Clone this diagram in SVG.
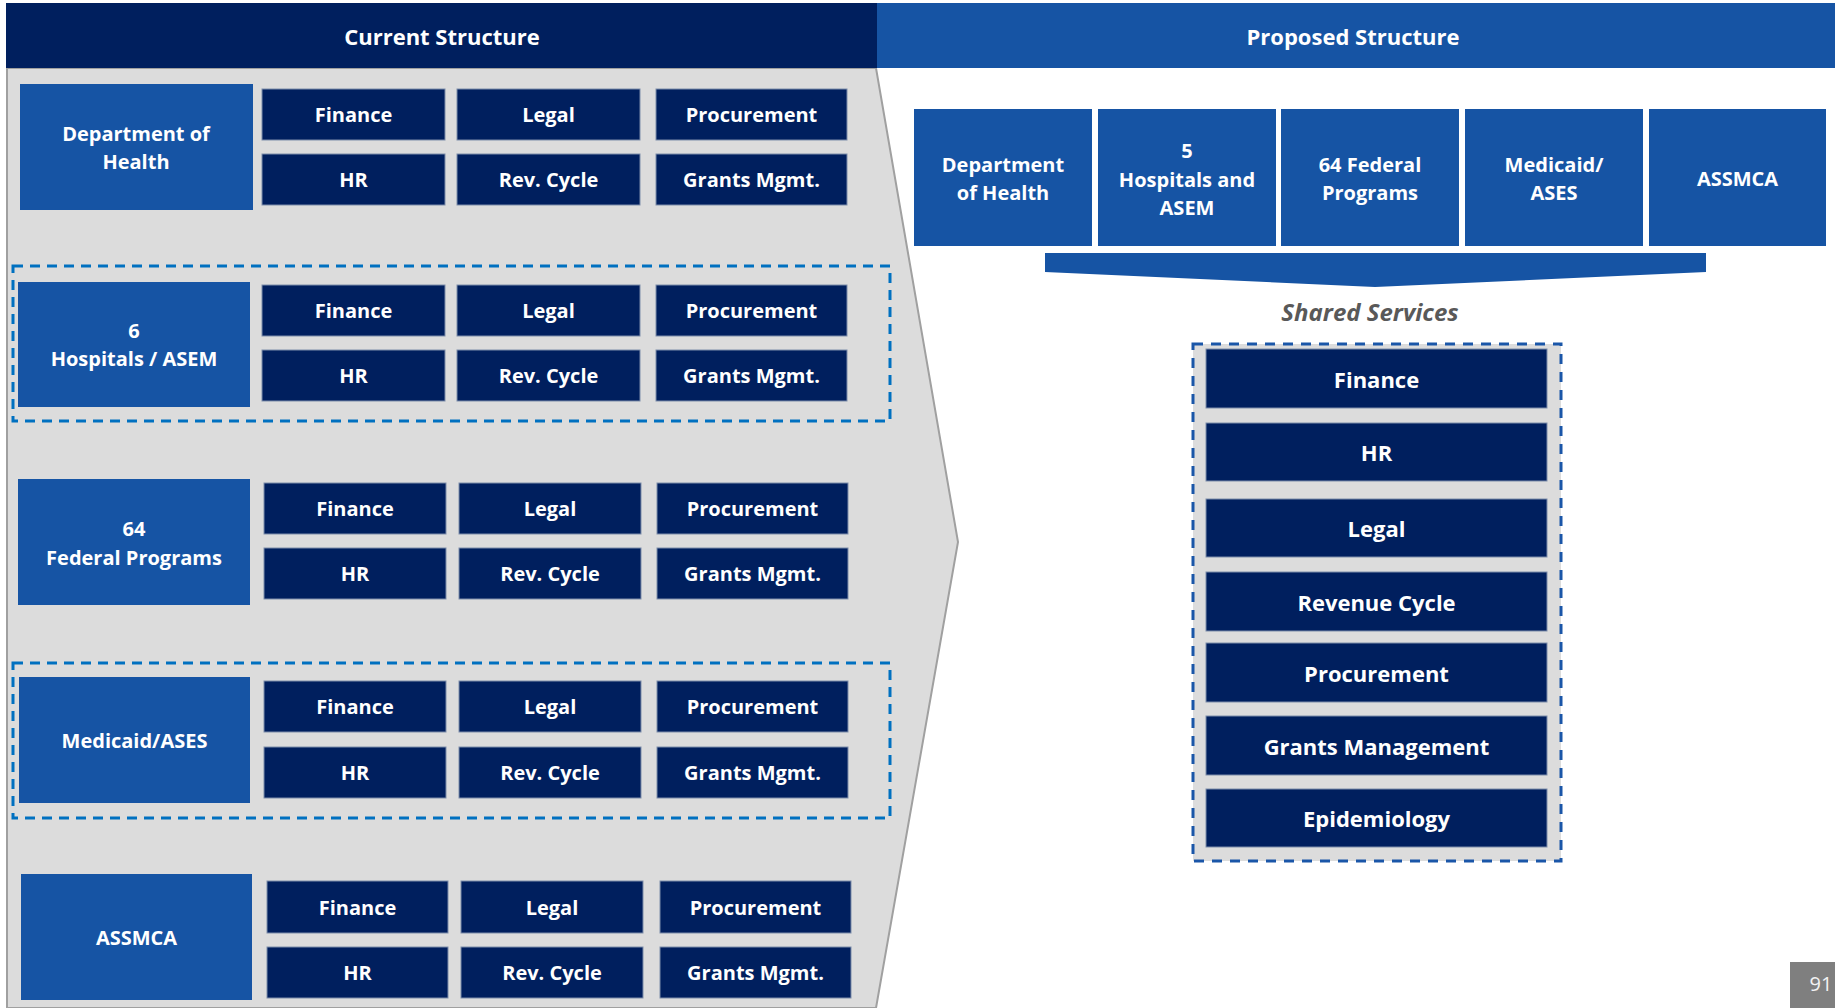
<svg xmlns="http://www.w3.org/2000/svg" width="1835" height="1008" viewBox="0 0 1835 1008">
<style>
text{font-family:"Open Sans","Liberation Sans",sans-serif;font-weight:700;fill:#fff;text-anchor:middle;dominant-baseline:central}
.hdr{font-size:22px}
.lab{fill:#1654A4}
.sub{fill:#001F5E;stroke:#7D8DAA;stroke-width:1}
.st{font-size:20px}
.lt{font-size:20px}
.pt{font-size:20px}
.svc{fill:#001F5E;stroke:#7D8DAA;stroke-width:1}
.svt{font-size:22px}
.dash{fill:none;stroke:#0070C0;stroke-width:3;stroke-dasharray:10 7}
</style>
<rect width="1835" height="1008" fill="#fff"/>
<!-- gray panel -->
<polygon id="current-panel" points="7,68 876,68 958,542 876,1008 7,1008" fill="#DCDCDC" stroke="#A0A0A0" stroke-width="2"/>
<!-- headers -->
<g id="hdr-current"><rect x="6" y="3" width="871" height="65" fill="#001F5E"/><text class="hdr" x="442" y="36">Current Structure</text></g>
<g id="hdr-proposed"><rect x="877" y="3" width="958" height="65" fill="#1654A4"/><text class="hdr" x="1353" y="36">Proposed Structure</text></g>

<!-- dashed group outlines -->
<rect id="grp-hospitals" class="dash" x="13" y="266" width="877" height="155"/>
<rect id="grp-medicaid" class="dash" x="13" y="663" width="877" height="155"/>

<!-- Row 1 -->
<g id="row-doh">
<rect class="lab" x="20" y="84" width="233" height="126"/>
<text class="lt" x="136" y="133">Department of</text><text class="lt" x="136" y="161">Health</text>
<rect class="sub" x="262" y="89" width="183" height="51"/><text class="st" x="353.5" y="114.5">Finance</text>
<rect class="sub" x="457" y="89" width="183" height="51"/><text class="st" x="548.5" y="114.5">Legal</text>
<rect class="sub" x="656" y="89" width="191" height="51"/><text class="st" x="751.5" y="114.5">Procurement</text>
<rect class="sub" x="262" y="154" width="183" height="51"/><text class="st" x="353.5" y="179.5">HR</text>
<rect class="sub" x="457" y="154" width="183" height="51"/><text class="st" x="548.5" y="179.5">Rev. Cycle</text>
<rect class="sub" x="656" y="154" width="191" height="51"/><text class="st" x="751.5" y="179.5">Grants Mgmt.</text>
</g>

<!-- Row 2 -->
<g id="row-hospitals">
<rect class="lab" x="18" y="282" width="232" height="125"/>
<text class="lt" x="134" y="330">6</text><text class="lt" x="134" y="358">Hospitals / ASEM</text>
<rect class="sub" x="262" y="285" width="183" height="51"/><text class="st" x="353.5" y="310.5">Finance</text>
<rect class="sub" x="457" y="285" width="183" height="51"/><text class="st" x="548.5" y="310.5">Legal</text>
<rect class="sub" x="656" y="285" width="191" height="51"/><text class="st" x="751.5" y="310.5">Procurement</text>
<rect class="sub" x="262" y="350" width="183" height="51"/><text class="st" x="353.5" y="375.5">HR</text>
<rect class="sub" x="457" y="350" width="183" height="51"/><text class="st" x="548.5" y="375.5">Rev. Cycle</text>
<rect class="sub" x="656" y="350" width="191" height="51"/><text class="st" x="751.5" y="375.5">Grants Mgmt.</text>
</g>

<!-- Row 3 -->
<g id="row-federal">
<rect class="lab" x="18" y="479" width="232" height="126"/>
<text class="lt" x="134" y="528">64</text><text class="lt" x="134" y="557">Federal Programs</text>
<rect class="sub" x="264" y="483" width="182" height="51"/><text class="st" x="355" y="508.5">Finance</text>
<rect class="sub" x="459" y="483" width="182" height="51"/><text class="st" x="550" y="508.5">Legal</text>
<rect class="sub" x="657" y="483" width="191" height="51"/><text class="st" x="752.5" y="508.5">Procurement</text>
<rect class="sub" x="264" y="548" width="182" height="51"/><text class="st" x="355" y="573.5">HR</text>
<rect class="sub" x="459" y="548" width="182" height="51"/><text class="st" x="550" y="573.5">Rev. Cycle</text>
<rect class="sub" x="657" y="548" width="191" height="51"/><text class="st" x="752.5" y="573.5">Grants Mgmt.</text>
</g>

<!-- Row 4 -->
<g id="row-medicaid">
<rect class="lab" x="19" y="677" width="231" height="126"/>
<text class="lt" x="134.5" y="740">Medicaid/ASES</text>
<rect class="sub" x="264" y="681" width="182" height="51"/><text class="st" x="355" y="706.5">Finance</text>
<rect class="sub" x="459" y="681" width="182" height="51"/><text class="st" x="550" y="706.5">Legal</text>
<rect class="sub" x="657" y="681" width="191" height="51"/><text class="st" x="752.5" y="706.5">Procurement</text>
<rect class="sub" x="264" y="747" width="182" height="51"/><text class="st" x="355" y="772.5">HR</text>
<rect class="sub" x="459" y="747" width="182" height="51"/><text class="st" x="550" y="772.5">Rev. Cycle</text>
<rect class="sub" x="657" y="747" width="191" height="51"/><text class="st" x="752.5" y="772.5">Grants Mgmt.</text>
</g>

<!-- Row 5 -->
<g id="row-assmca">
<rect class="lab" x="21" y="874" width="231" height="126"/>
<text class="lt" x="136.5" y="937">ASSMCA</text>
<rect class="sub" x="267" y="881" width="181" height="52"/><text class="st" x="357.5" y="907">Finance</text>
<rect class="sub" x="461" y="881" width="182" height="52"/><text class="st" x="552" y="907">Legal</text>
<rect class="sub" x="660" y="881" width="191" height="52"/><text class="st" x="755.5" y="907">Procurement</text>
<rect class="sub" x="267" y="947" width="181" height="51"/><text class="st" x="357.5" y="972.5">HR</text>
<rect class="sub" x="461" y="947" width="182" height="51"/><text class="st" x="552" y="972.5">Rev. Cycle</text>
<rect class="sub" x="660" y="947" width="191" height="51"/><text class="st" x="755.5" y="972.5">Grants Mgmt.</text>
</g>

<!-- Proposed top boxes -->
<g id="p-doh"><rect class="lab" x="914" y="109" width="178" height="137"/><text class="pt" x="1003" y="164">Department</text><text class="pt" x="1003" y="192">of Health</text></g>
<g id="p-hospitals"><rect class="lab" x="1098" y="109" width="178" height="137"/><text class="pt" x="1187" y="150">5</text><text class="pt" x="1187" y="179">Hospitals and</text><text class="pt" x="1187" y="207">ASEM</text></g>
<g id="p-federal"><rect class="lab" x="1281" y="109" width="178" height="137"/><text class="pt" x="1370" y="164">64 Federal</text><text class="pt" x="1370" y="192">Programs</text></g>
<g id="p-medicaid"><rect class="lab" x="1465" y="109" width="178" height="137"/><text class="pt" x="1554" y="164">Medicaid/</text><text class="pt" x="1554" y="192">ASES</text></g>
<g id="p-assmca"><rect class="lab" x="1649" y="109" width="177" height="137"/><text class="pt" x="1737.5" y="178">ASSMCA</text></g>

<!-- connector: funnel arrow -->
<g id="connectors">
<polygon points="1045,253 1706,253 1706,272 1375,287 1045,272" fill="#1654A4"/>
</g>

<text x="1370" y="311" style="font-size:24px;font-style:italic;fill:#595959">Shared Services</text>

<!-- Shared services -->
<g id="shared-services">
<rect x="1193" y="344" width="368" height="517" fill="#DCDCDC" stroke="#1A56A8" stroke-width="3" stroke-dasharray="10 8"/>
<rect class="svc" x="1206" y="349" width="341" height="59"/><text class="svt" x="1376.5" y="378.5">Finance</text>
<rect class="svc" x="1206" y="423" width="341" height="58"/><text class="svt" x="1376.5" y="452">HR</text>
<rect class="svc" x="1206" y="499" width="341" height="58"/><text class="svt" x="1376.5" y="528">Legal</text>
<rect class="svc" x="1206" y="572" width="341" height="59"/><text class="svt" x="1376.5" y="601.5">Revenue Cycle</text>
<rect class="svc" x="1206" y="643" width="341" height="59"/><text class="svt" x="1376.5" y="672.5">Procurement</text>
<rect class="svc" x="1206" y="716" width="341" height="59"/><text class="svt" x="1376.5" y="745.5">Grants Management</text>
<rect class="svc" x="1206" y="789" width="341" height="58"/><text class="svt" x="1376.5" y="818">Epidemiology</text>
</g>

<!-- page number -->
<g id="page-num"><rect x="1790" y="962" width="45" height="46" fill="#7F7F7F"/><text x="1821" y="983" style="font-size:20px;font-weight:400;fill:#F2F2F2">91</text></g>
</svg>
